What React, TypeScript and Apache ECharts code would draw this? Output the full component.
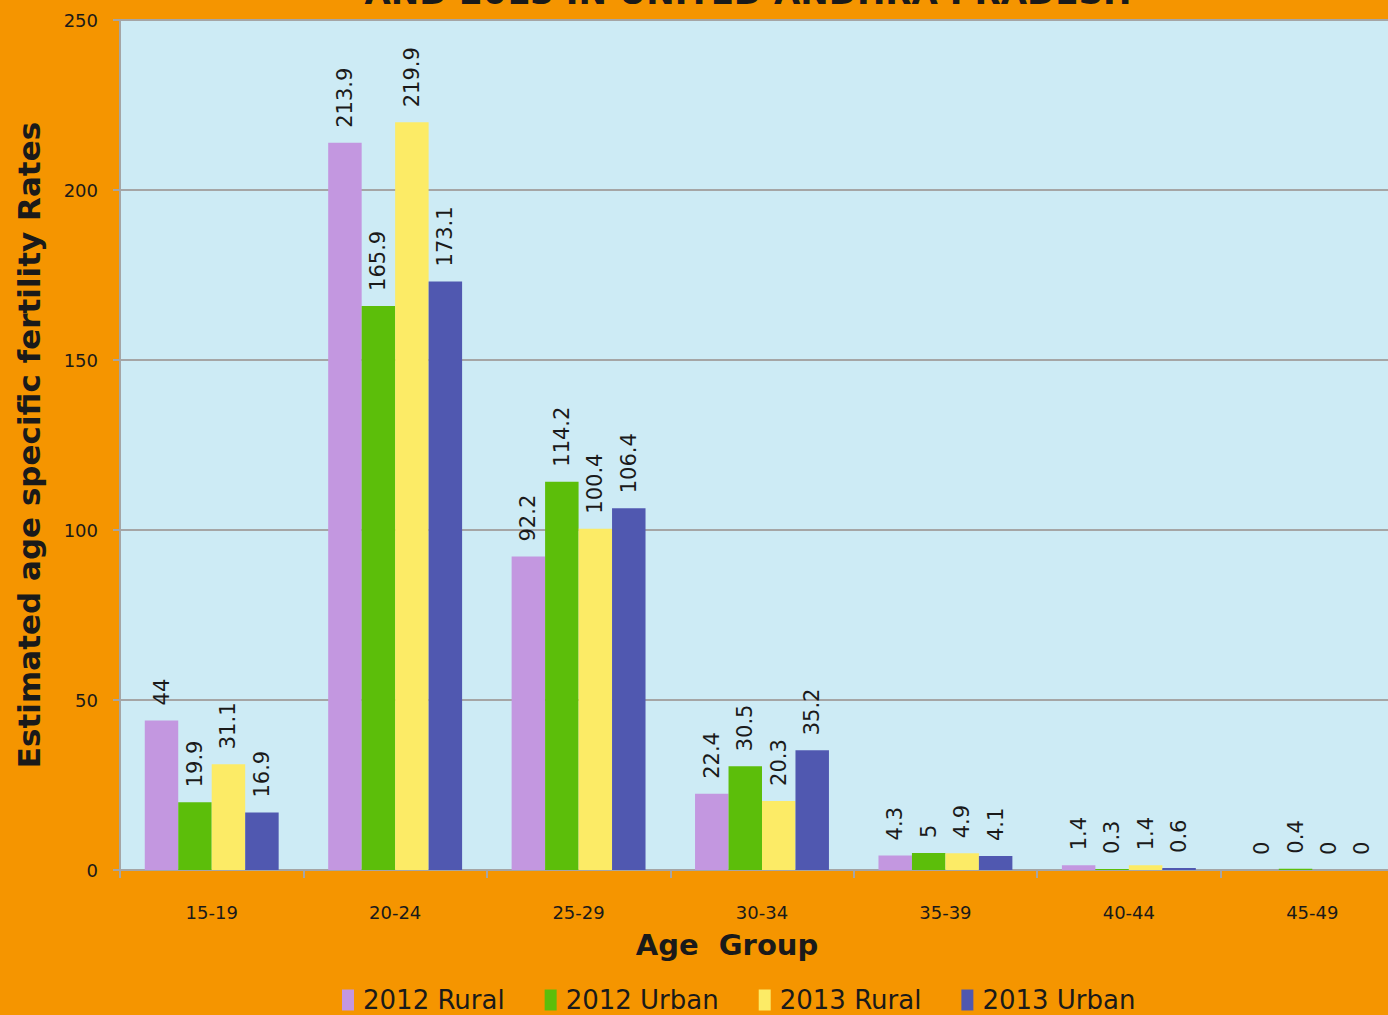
import React, { useEffect, useRef } from "react";
import * as echarts from "echarts";

const categories = ["15-19", "20-24", "25-29", "30-34", "35-39", "40-44", "45-49"];
const seriesNames = ["2012 Rural", "2012 Urban", "2013 Rural", "2013 Urban"];
const rural2012 = [44, 213.9, 92.2, 22.4, 4.3, 1.4, 0];
const urban2012 = [19.9, 165.9, 114.2, 30.5, 5, 0.3, 0.4];
const rural2013 = [31.1, 219.9, 100.4, 20.3, 4.9, 1.4, 0];
const urban2013 = [16.9, 173.1, 106.4, 35.2, 4.1, 0.6, 0];
const colors = ["#C397E0", "#5CBE0A", "#FCEB66", "#5058B0"];
const titleText = "AND 2013 IN UNITED ANDHRA PRADESH";
const xAxisTitle = "Age  Group";
const yAxisTitle = "Estimated age specific fertility Rates";

const FONT = "DejaVu Sans";

export default function App() {
  const ref = useRef<HTMLDivElement>(null);
  useEffect(() => {
    const chart = echarts.init(ref.current!, null, { renderer: "svg" });
    const values = [rural2012, urban2012, rural2013, urban2013];
    chart.setOption({
      animation: false,
      backgroundColor: "#F59500",
      textStyle: { fontFamily: FONT },
      graphic: [
        {
          type: "text",
          x: 748,
          y: 9,
          style: {
            text: titleText,
            font: `bold 34px ${FONT}`,
            fill: "#1a1a1a",
            align: "center",
            verticalAlign: "bottom",
          },
        },
        {
          type: "text",
          x: 727,
          y: 945,
          style: {
            text: xAxisTitle,
            font: `bold 29px ${FONT}`,
            fill: "#1a1a1a",
            align: "center",
            verticalAlign: "middle",
          },
        },
      ],
      legend: {
        data: seriesNames,
        bottom: -3,
        left: 337,
        icon: "rect",
        itemWidth: 12,
        itemHeight: 21,
        itemGap: 40,
        textStyle: { fontSize: 26, color: "#1a1a1a", fontFamily: FONT, padding: [0, 0, 0, 4] },
      },
      grid: {
        left: 120,
        top: 20,
        right: 0,
        height: 850,
        show: true,
        backgroundColor: "#CDEBF5",
        borderWidth: 0,
      },
      xAxis: {
        type: "category",
        data: categories,
        axisLine: { lineStyle: { color: "#A5A5A5", width: 2 } },
        axisTick: { show: true, length: 8, lineStyle: { color: "#A5A5A5", width: 2 } },
        axisLabel: { fontSize: 18, color: "#1a1a1a", margin: 33 },
      },
      yAxis: {
        type: "value",
        min: 0,
        max: 250,
        interval: 50,
        name: yAxisTitle,
        nameLocation: "middle",
        nameGap: 76,
        nameTextStyle: { fontSize: 31, fontWeight: "bold", color: "#1a1a1a", fontFamily: FONT },
        axisLine: { show: true, lineStyle: { color: "#A5A5A5", width: 2 } },
        axisTick: { show: true, length: 7, lineStyle: { color: "#A5A5A5", width: 2 } },
        axisLabel: { fontSize: 18, color: "#1a1a1a", margin: 22 },
        splitLine: { lineStyle: { color: "#A5A5A5", width: 2 } },
      },
      series: seriesNames.map((name, i) => ({
        name,
        type: "bar",
        data: values[i],
        barGap: "0%",
        barCategoryGap: "27%",
        itemStyle: { color: colors[i] },
        label: {
          show: true,
          position: "top",
          rotate: 90,
          align: "left",
          verticalAlign: "middle",
          distance: 15,
          fontSize: 21,
          color: "#1a1a1a",
          fontFamily: FONT,
        },
      })),
    });
    return () => chart.dispose();
  }, []);
  return (
    <div
      style={{
        position: "fixed",
        left: 0,
        top: 0,
        width: 1388,
        height: 1015,
        overflow: "hidden",
      }}
    >
      <div ref={ref} style={{ width: 1404, height: 1015 }} />
    </div>
  );
}
